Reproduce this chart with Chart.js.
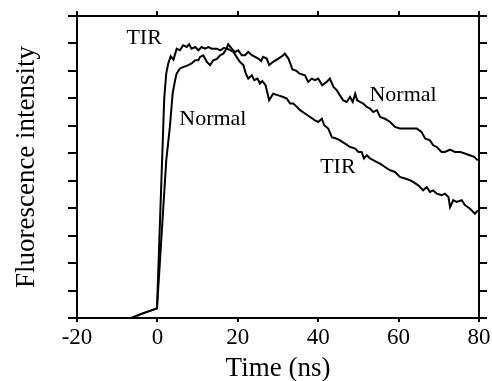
<!DOCTYPE html>
<html>
<head>
<meta charset="utf-8">
<script src="https://cdn.jsdelivr.net/npm/chart.js@4/dist/chart.umd.min.js"></script>
<style>
  body { margin: 0; background: #fff; }
  #chart { display: block; }
</style>
</head>
<body>
<canvas id="chart" width="492" height="381"></canvas>
<script>
// time (ns) and fluorescence intensity (arb. units)
var tirTime = [-6.4, -4.3, -0.1, 1.7, 2.2, 2.7, 3.3, 4.0, 4.8, 5.6, 6.4, 7.3, 7.9, 8.5, 9.4, 10.2, 11.0, 11.8, 12.7, 13.5, 14.8, 15.6, 16.6, 17.8, 18.9, 19.7, 20.5, 21.4, 22.0, 22.6, 23.5, 24.1, 24.9, 25.5, 26.1, 26.9, 27.8, 28.8, 30.1, 31.3, 32.2, 33.0, 33.8, 34.7, 35.5, 36.7, 38.0, 39.2, 40.0, 40.9, 41.5, 42.5, 43.4, 44.6, 45.4, 46.7, 47.9, 49.2, 50.0, 50.8, 51.4, 52.1, 52.9, 53.7, 54.6, 55.4, 56.6, 57.9, 59.1, 60.3, 61.6, 62.8, 63.7, 64.9, 66.1, 67.0, 67.8, 68.6, 69.5, 70.7, 71.5, 72.4, 72.8, 73.6, 74.4, 75.7, 76.5, 77.7, 79.0, 79.7];
var tirValue = [0, 0.13, 0.35, 8.0, 8.9, 9.27, 9.53, 9.41, 9.81, 9.75, 9.93, 9.87, 9.97, 9.81, 9.87, 9.75, 9.87, 9.81, 9.87, 9.81, 9.81, 9.75, 9.84, 9.78, 9.69, 9.51, 9.33, 9.21, 8.9, 8.72, 8.84, 8.66, 8.72, 8.54, 8.63, 8.48, 7.93, 8.17, 8.11, 8.05, 7.99, 7.81, 7.81, 7.69, 7.57, 7.45, 7.32, 7.2, 7.14, 7.26, 7.02, 6.9, 6.59, 6.53, 6.47, 6.35, 6.23, 6.17, 6.05, 6.05, 5.81, 5.93, 5.81, 5.75, 5.68, 5.62, 5.5, 5.38, 5.32, 5.14, 5.08, 5.02, 4.95, 4.83, 4.65, 4.77, 4.59, 4.65, 4.53, 4.47, 4.53, 4.41, 4.04, 4.29, 4.23, 4.29, 4.11, 3.99, 3.8, 3.92];

var normalTime = [-6.4, -4.3, -0.1, 2.2, 3.1, 3.8, 4.4, 4.8, 5.6, 6.4, 7.7, 8.5, 9.4, 10.2, 10.6, 11.4, 12.3, 13.1, 13.9, 14.8, 15.6, 16.4, 17.2, 17.6, 18.5, 19.3, 20.1, 21.0, 21.8, 22.6, 23.5, 24.3, 25.1, 25.8, 26.3, 27.2, 27.8, 28.8, 30.1, 31.3, 31.7, 32.6, 33.6, 34.6, 35.4, 36.7, 37.5, 38.4, 39.2, 40.0, 41.0, 42.1, 42.9, 43.8, 44.6, 45.4, 46.2, 47.1, 47.9, 48.6, 49.2, 49.7, 50.4, 51.2, 52.1, 52.9, 53.7, 54.6, 55.4, 56.6, 57.9, 59.1, 60.3, 61.6, 62.8, 64.5, 65.7, 66.6, 67.8, 68.6, 69.5, 70.7, 71.5, 72.8, 74.0, 75.3, 76.5, 77.7, 78.8, 79.7];
var normalValue = [0, 0.13, 0.35, 5.74, 6.95, 8.19, 8.66, 8.91, 9.09, 9.14, 9.21, 9.27, 9.39, 9.39, 9.51, 9.57, 9.33, 9.21, 9.39, 9.44, 9.57, 9.63, 9.81, 9.97, 9.81, 9.69, 9.75, 9.57, 9.57, 9.69, 9.57, 9.51, 9.45, 9.36, 9.51, 9.45, 9.21, 9.33, 9.45, 9.57, 9.63, 9.45, 9.05, 9.0, 8.9, 8.84, 8.6, 8.72, 8.66, 8.72, 8.48, 8.6, 8.72, 8.42, 8.3, 8.11, 7.93, 7.87, 8.05, 7.87, 8.17, 7.93, 7.87, 7.81, 7.69, 7.63, 7.5, 7.57, 7.32, 7.26, 7.14, 6.96, 6.9, 6.9, 6.9, 6.9, 6.78, 6.54, 6.47, 6.29, 6.23, 6.05, 6.05, 6.13, 6.05, 6.05, 5.99, 5.93, 5.87, 5.74];

var xTicks = [-20, 0, 20, 40, 60, 80];
var yTicks = [0, 1, 2, 3, 4, 5, 6, 7, 8, 9, 10, 11];

// curve labels, placed in data coordinates
var labelText = ['TIR', 'Normal', 'Normal', 'TIR'];
var labelTime = [-3.3, 13.8, 61.1, 44.9];
var labelValue = [10.2, 7.24, 8.1, 5.5];

function toPoints(ts, vs) {
    return ts.map(function(t, i) { return { x: t, y: vs[i] }; });
}

var serif = "'Liberation Serif', 'Times New Roman', serif";

// box, outward tick marks and curve labels
var framePlugin = {
    id: 'frame',
    afterDatasetsDraw: function(chart) {
        var ctx = chart.ctx;
        var a = chart.chartArea;
        var x = chart.scales.x, y = chart.scales.y;
        ctx.save();
        ctx.strokeStyle = '#000';
        ctx.lineWidth = 2;
        ctx.strokeRect(a.left, a.top, a.right - a.left, a.bottom - a.top);
        ctx.beginPath();
        yTicks.forEach(function(v) {
            var py = Math.round(y.getPixelForValue(v));
            ctx.moveTo(a.left - 9, py); ctx.lineTo(a.left, py);
            ctx.moveTo(a.right, py); ctx.lineTo(a.right + 8, py);
        });
        xTicks.forEach(function(t) {
            var px = Math.round(x.getPixelForValue(t));
            ctx.moveTo(px, a.top - 5); ctx.lineTo(px, a.top);
            ctx.moveTo(px, a.bottom); ctx.lineTo(px, a.bottom + 4);
        });
        ctx.stroke();

        ctx.fillStyle = '#000';
        ctx.font = '22px ' + serif;
        ctx.textAlign = 'center';
        ctx.textBaseline = 'middle';
        labelText.forEach(function(s, i) {
            ctx.fillText(s, x.getPixelForValue(labelTime[i]), y.getPixelForValue(labelValue[i]));
        });
        ctx.restore();
    }
};

var ctx = document.getElementById('chart').getContext('2d');
var chart = new Chart(ctx, {
    type: 'line',
    data: {
        datasets: [
            { label: 'TIR', data: toPoints(tirTime, tirValue) },
            { label: 'Normal', data: toPoints(normalTime, normalValue) }
        ]
    },
    options: {
        responsive: false,
        animation: false,
        devicePixelRatio: 1,
        layout: { padding: { top: 16, right: 13, left: 0, bottom: 0 } },
        elements: {
            line: { borderColor: '#000', borderWidth: 2, tension: 0, fill: false },
            point: { radius: 0 }
        },
        plugins: { legend: { display: false }, tooltip: { enabled: false } },
        scales: {
            x: {
                type: 'linear',
                min: -20, max: 80,
                afterBuildTicks: function(scale) {
                    scale.ticks = xTicks.map(function(v) { return { value: v }; });
                },
                afterFit: function(scale) { scale.height = 63; },
                grid: { display: false },
                border: { display: false },
                ticks: { color: '#000', font: { family: serif, size: 23 }, padding: -2, maxRotation: 0 },
                title: { display: true, text: 'Time (ns)', color: '#000', font: { family: serif, size: 27 }, padding: { top: 0, bottom: -4 } }
            },
            y: {
                min: 0, max: 11,
                afterFit: function(scale) { scale.width = 77; },
                grid: { display: false },
                border: { display: false },
                ticks: { display: false },
                title: { display: true, text: 'Fluorescence intensity', color: '#000', font: { family: serif, size: 27 }, padding: { top: 11, bottom: 0 } }
            }
        }
    },
    plugins: [framePlugin]
});
</script>
</body>
</html>
